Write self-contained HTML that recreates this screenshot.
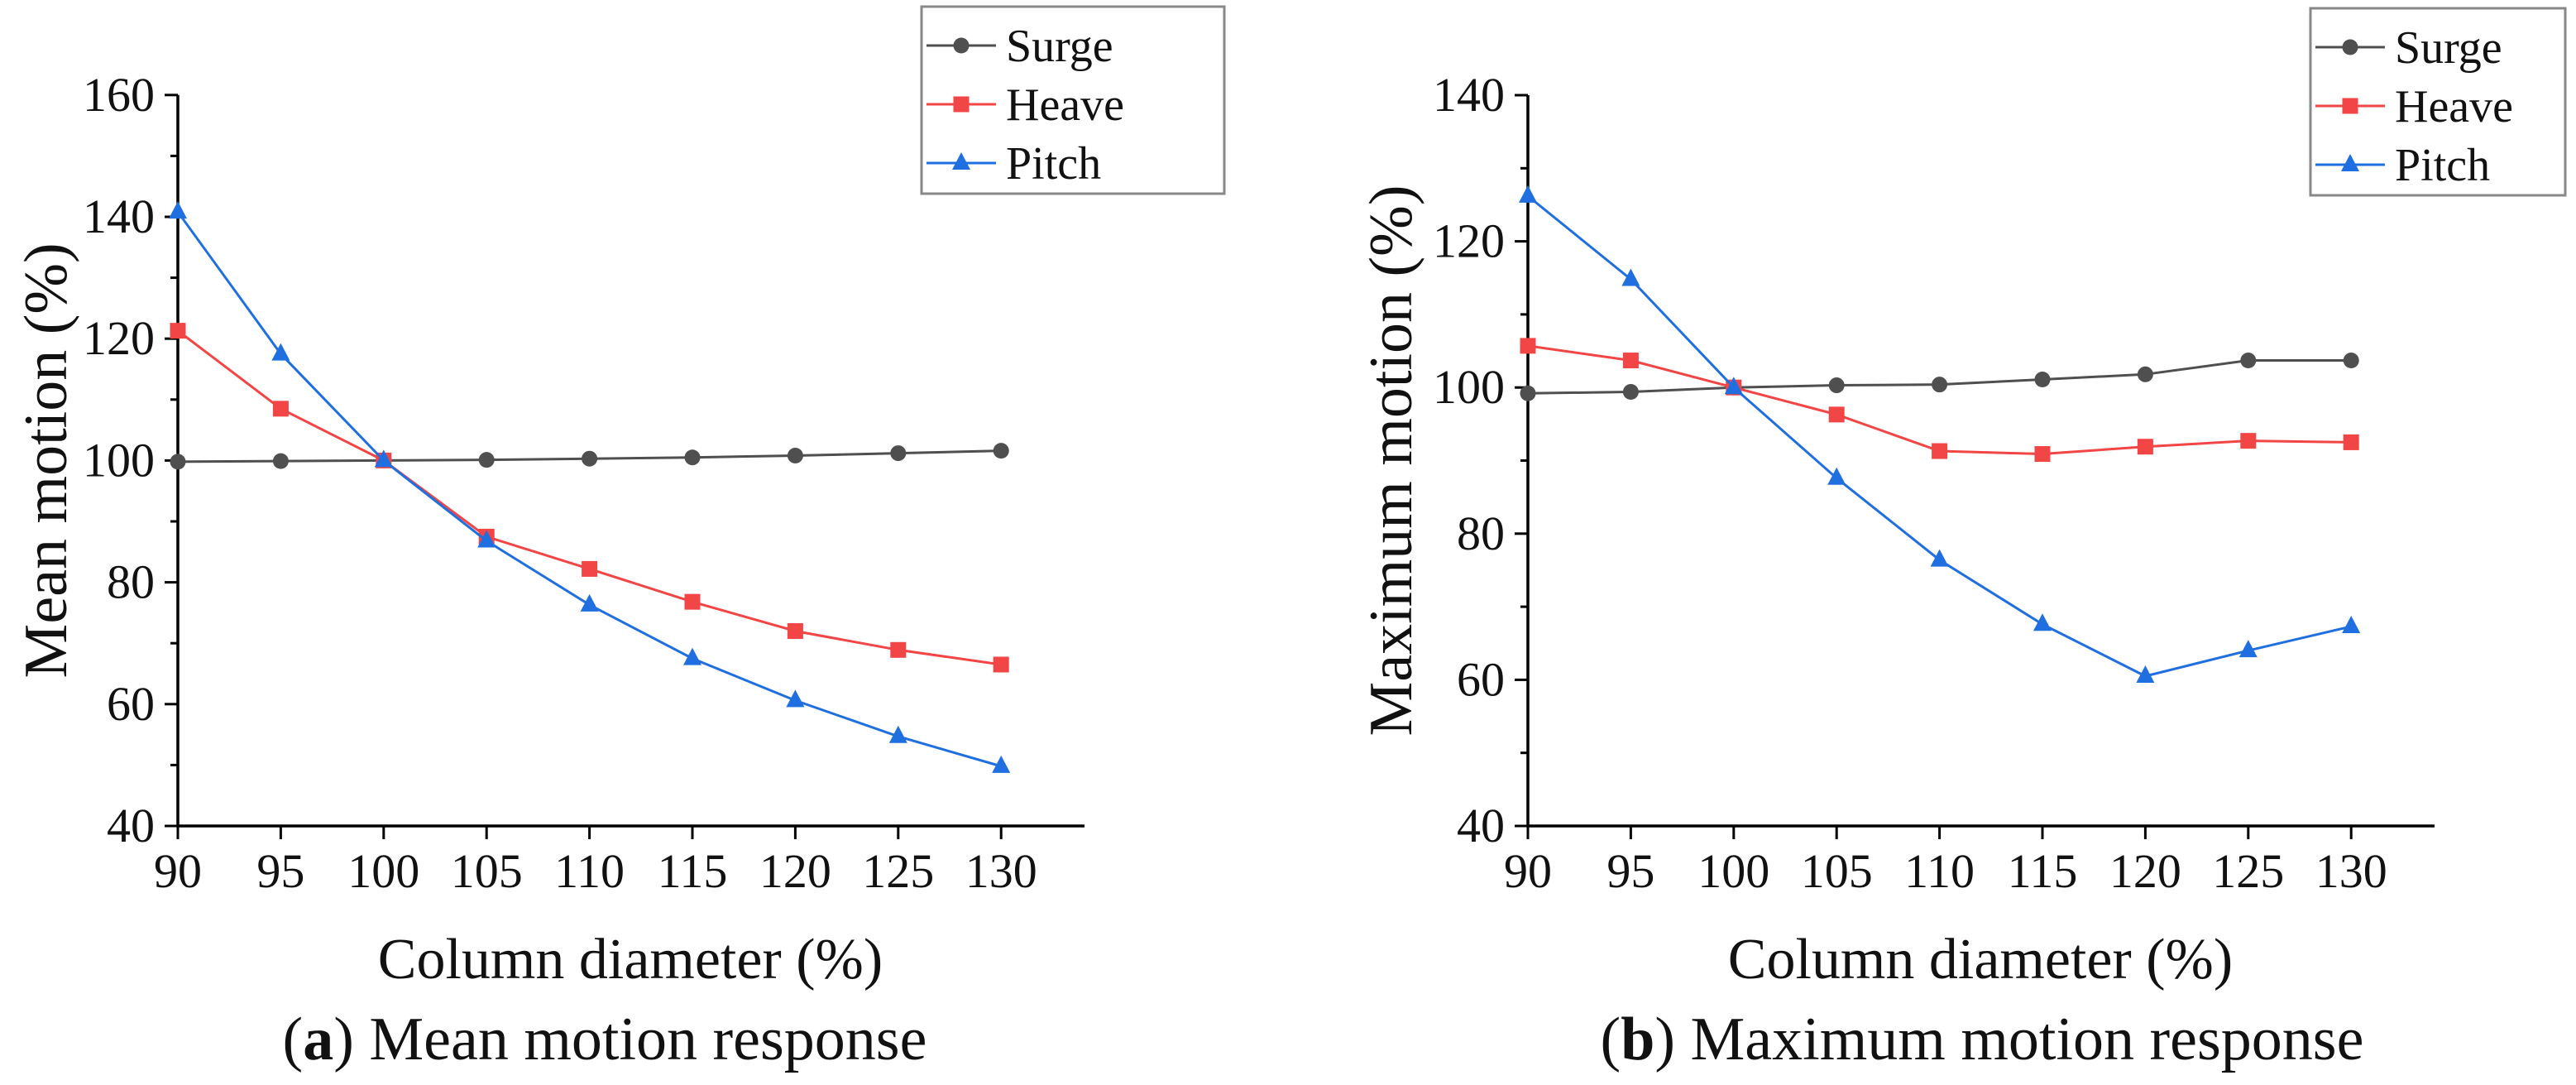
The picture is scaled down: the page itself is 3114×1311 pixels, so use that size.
<!DOCTYPE html>
<html><head><meta charset="utf-8"><style>
html,body{margin:0;padding:0;background:#fff}
svg{display:block}
svg text{font-family:"Liberation Serif","DejaVu Serif",serif;fill:#111}
</style></head><body>
<svg id="fig" width="3114" height="1311" viewBox="0 0 3114 1311" xmlns="http://www.w3.org/2000/svg" font-family="Liberation Serif, DejaVu Serif, serif"></svg>
<script>
const categories=[90,95,100,105,110,115,120,125,130];
const meanSurge=[99.8,99.9,100,100.1,100.3,100.5,100.8,101.2,101.6];
const meanHeave=[121.3,108.5,100,87.5,82.2,76.8,72,68.9,66.5];
const meanPitch=[140.8,117.5,100,86.8,76.3,67.5,60.6,54.7,49.8];
const maxSurge=[99.2,99.4,100,100.3,100.4,101.1,101.8,103.7,103.7];
const maxHeave=[105.7,103.7,100,96.3,91.3,90.9,91.9,92.7,92.5];
const maxPitch=[126.2,114.8,100,87.6,76.4,67.6,60.5,64,67.3];
const yTicksA=[40,60,80,100,120,140,160];
const yTicksB=[40,60,80,100,120,140];
const seriesNames=['Surge','Heave','Pitch'];

const NS='http://www.w3.org/2000/svg';
const svg=document.getElementById('fig');
const colors=['#4f4f4f','#f24545','#1f6fe0'];
const FF='"Liberation Serif","DejaVu Serif",serif';
function mk(tag,attrs,parent){const e=document.createElementNS(NS,tag);for(const k in attrs)e.setAttribute(k,attrs[k]);if(tag==='text')e.style.fontFamily=FF;(parent||svg).appendChild(e);return e;}
function marker(g,type,x,y,c){
  let e;
  if(type===0){e=mk('circle',{cx:x,cy:y,r:9.5,fill:c},g);}
  else if(type===1){e=mk('rect',{x:x-9.5,y:y-9.5,width:19,height:19,fill:c},g);}
  else {e=mk('polygon',{points:`${x},${y-13} ${x-11},${y+8} ${x+11},${y+8}`,fill:c},g);}
  return e;
}
function chart(cfg){
  const g=mk('g',{});
  
  
  const x=v=>cfg.x0+(v-90)/5*cfg.dx;
  const y=v=>cfg.yb-(v-40)/20*cfg.dy;
  const yTop=y(cfg.ymax);
  const ax=mk('path',{d:`M${cfg.x0} ${yTop} V${cfg.yb} H${cfg.xend}`,stroke:'#000','stroke-width':3.5,fill:'none'},g);
  
  
  cfg.yTicks.forEach((t,i)=>{
    mk('line',{x1:cfg.x0-16,x2:cfg.x0,y1:y(t),y2:y(t),stroke:'#000','stroke-width':3},g);
    if(i<cfg.yTicks.length-1) mk('line',{x1:cfg.x0-9,x2:cfg.x0,y1:y(t+10),y2:y(t+10),stroke:'#000','stroke-width':3},g);
    const tl=mk('text',{x:cfg.x0-28,y:y(t)+19,'font-size':58,'text-anchor':'end'},g);
    tl.textContent=t;
    
    
  });
  categories.forEach(c=>{
    mk('line',{x1:x(c),x2:x(c),y1:cfg.yb,y2:cfg.yb+16,stroke:'#000','stroke-width':3},g);
    const tl=mk('text',{x:x(c),y:1072,'font-size':58,'text-anchor':'middle'},g);
    tl.textContent=c;
    
    
  });
  cfg.series.forEach((s,si)=>{
    const sg=mk('g',{},g);
    
    
    mk('polyline',{points:s.map((v,i)=>x(categories[i])+','+y(v)).join(' '),fill:'none',stroke:colors[si],'stroke-width':3},sg);
    s.forEach((v,i)=>{const m=marker(sg,si,x(categories[i]),y(v),colors[si]);
      
      });
  });
  const xt=mk('text',{x:cfg.xtc,y:1182,'font-size':70,'text-anchor':'middle'},g);
  xt.textContent='Column diameter (%)';
  
  
  const yt=mk('text',{x:0,y:0,'font-size':74,'text-anchor':'middle',transform:`translate(${cfg.ytx},${(yTop+cfg.yb)/2}) rotate(-90)`},g);
  yt.textContent=cfg.ytitle;
  
  
  const cap=mk('text',{x:cfg.capx,y:1280,'font-size':74,'text-anchor':'middle'},g);
  const b=document.createElementNS(NS,'tspan');b.textContent='(';cap.appendChild(b);
  const bb=document.createElementNS(NS,'tspan');bb.setAttribute('font-weight','bold');bb.textContent=cfg.letter;cap.appendChild(bb);
  const bc=document.createElementNS(NS,'tspan');bc.textContent=') '+cfg.caption;cap.appendChild(bc);
  
  
  const lg=mk('g',{},g);
  
  
  mk('rect',{x:cfg.lx,y:cfg.ly,width:cfg.lw,height:226,fill:'#fff',stroke:'#888','stroke-width':3},lg);
  seriesNames.forEach((n,i)=>{
    const ry=cfg.ly+47+i*71;
    const le=mk('g',{},lg);
    
    
    mk('line',{x1:cfg.lx+6,x2:cfg.lx+90,y1:ry,y2:ry,stroke:colors[i],'stroke-width':3},le);
    marker(le,i,cfg.lx+48,ry,colors[i]);
    const t=mk('text',{x:cfg.lx+102,y:ry+19,'font-size':56},le);
    t.textContent=n;
  });
}
chart({name:'chart-mean-motion',x0:215,dx:124.4,xend:1311,yb:998,dy:147.2,ymax:160,yTicks:yTicksA,
  series:[meanSurge,meanHeave,meanPitch],xtc:762,ytx:80,ytitle:'Mean motion (%)',capx:731,letter:'a',caption:'Mean motion response',
  lx:1114,ly:8,lw:366});
chart({name:'chart-maximum-motion',x0:1847,dx:124.4,xend:2943,yb:998,dy:176.6,ymax:140,yTicks:yTicksB,
  series:[maxSurge,maxHeave,maxPitch],xtc:2394,ytx:1706,ytitle:'Maximum motion (%)',capx:2396,letter:'b',caption:'Maximum motion response',
  lx:2793,ly:10,lw:308});
</script>
</body></html>
